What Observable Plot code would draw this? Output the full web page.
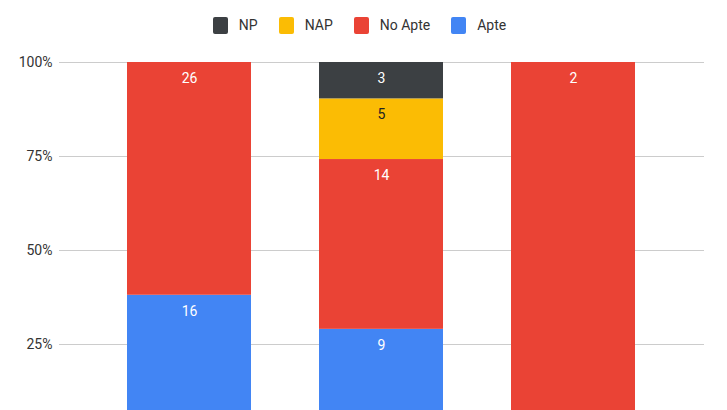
<!DOCTYPE html>
<html>
<head>
<meta charset="utf-8">
<script src="https://cdn.jsdelivr.net/npm/d3@7"></script>
<script src="https://cdn.jsdelivr.net/npm/@observablehq/plot@0.6"></script>
<style>
  html, body { margin: 0; padding: 0; background: #fff; overflow: hidden; width: 727px; height: 410px; }
  #legend { height: 50px; display: flex; justify-content: center; align-items: center; font-family: Roboto, sans-serif; font-size: 14px; color: #333; padding-right: 8px; box-sizing: border-box; }
  .item { display: flex; align-items: center; margin-right: 21px; }
  .item:last-child { margin-right: 0; }
  .sw { width: 15px; height: 17px; border-radius: 2px; margin-right: 11px; }
</style>
</head>
<body>
<div id="legend"></div>
<div id="chart"></div>
<script>
const categories = ["Grup 1", "Grup 2", "Grup 3"];
const seriesNames = ["NP", "NAP", "No Apte", "Apte"]; // legend order
const stackOrder = ["Apte", "No Apte", "NAP", "NP"];   // bottom to top
const colors = {"NP": "#3c4043", "NAP": "#fbbc04", "No Apte": "#ea4335", "Apte": "#4285f4"};
const apte   = [16, 9, 0];
const noApte = [26, 14, 2];
const nap    = [0, 5, 0];
const np     = [0, 3, 0];
const yTicks = [0.25, 0.5, 0.75, 1];

const values = {"Apte": apte, "No Apte": noApte, "NAP": nap, "NP": np};
const data = [];
categories.forEach((c, i) => {
  stackOrder.forEach(s => {
    if (values[s][i] > 0) data.push({category: c, series: s, value: values[s][i]});
  });
});

const legend = document.getElementById("legend");
seriesNames.forEach(s => {
  const it = document.createElement("div");
  it.className = "item";
  it.innerHTML = `<span class="sw" style="background:${colors[s]}"></span><span>${s}</span>`;
  legend.appendChild(it);
});

const textColor = s => s === "NAP" ? "#222" : "#fff";

const chart = Plot.plot({
  width: 727,
  height: 423,
  marginLeft: 59,
  marginRight: 23,
  marginTop: 12,
  marginBottom: 35,
  style: {fontFamily: "Roboto, sans-serif", fontSize: "14px", color: "#333"},
  x: {domain: categories, padding: 0.354, axis: null},
  y: {domain: [0, 1], ticks: yTicks, tickFormat: d => Math.round(d * 100) + "%", label: null, tickSize: 0, tickPadding: 8},
  color: {domain: seriesNames, range: seriesNames.map(s => colors[s])},
  marks: [
    Plot.gridY(yTicks, {stroke: "#ccc", strokeOpacity: 1, strokeWidth: 1}),
    Plot.barY(data, Plot.stackY({x: "category", y: "value", fill: "series", offset: "normalize", order: stackOrder})),
    Plot.text(data, Plot.stackY2({x: "category", y: "value", z: "series", offset: "normalize", order: stackOrder, text: d => String(d.value), fill: d => textColor(d.series), dy: 16, fontSize: 14})),
    Plot.axisY(yTicks, {tickSize: 0, tickPadding: 7, tickFormat: d => Math.round(d * 100) + "%", label: null, fontSize: 14})
  ]
});
document.getElementById("chart").appendChild(chart);
</script>
</body>
</html>
